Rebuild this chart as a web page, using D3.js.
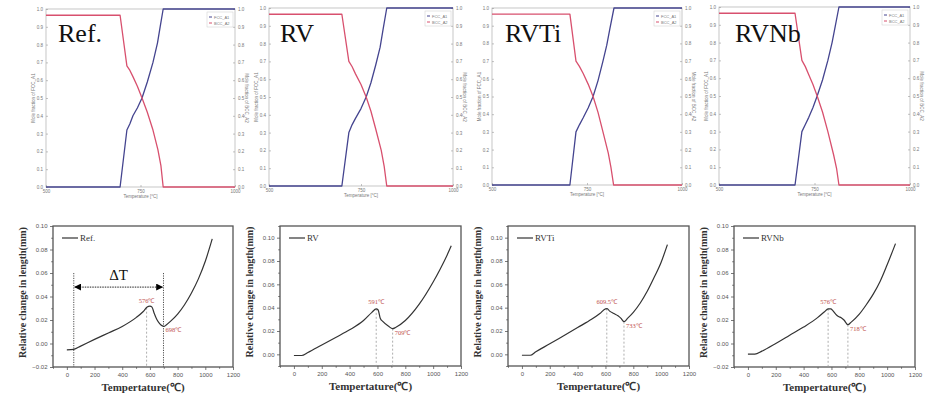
<!DOCTYPE html>
<html><head><meta charset="utf-8">
<script src="https://cdn.jsdelivr.net/npm/d3@7"></script>
<style>
html,body{margin:0;padding:0;background:#fff;}
svg{display:block;}
</style>
</head><body>
<svg id="chart" width="948" height="409"></svg>
<script>
// ---------------- DATA ----------------
const alloys = ["Ref.", "RV", "RVTi", "RVNb"];
const legendLabels = ["Ref.", "RV", "RVTi", "RVNb"];

// Top: phase fraction vs temperature (FCC_A1 blue, BCC_A2 red)
const topXTicks = [500, 750, 1000];
const topYTicks = [0, 0.1, 0.2, 0.3, 0.4, 0.5, 0.6, 0.7, 0.8, 0.9, 1.0];

const refFccT = [500, 696, 714, 722, 730, 742, 754, 768, 783, 795, 802, 810, 1000];
const refFcc  = [0, 0, 0.32, 0.355, 0.40, 0.445, 0.50, 0.59, 0.70, 0.81, 0.90, 1.0, 1.0];
const refBccT = [500, 696, 714, 722, 730, 742, 754, 768, 783, 796, 804, 810, 1000];
const refBcc  = [0.965, 0.965, 0.68, 0.655, 0.62, 0.565, 0.50, 0.42, 0.32, 0.21, 0.12, 0, 0];

const rvFccT = [500, 698, 717, 726, 735, 750, 764, 777, 790, 802, 810, 820, 1000];
const rvFcc  = [0, 0, 0.30, 0.345, 0.38, 0.435, 0.50, 0.58, 0.68, 0.78, 0.88, 1.0, 1.0];
const rvBccT = [500, 698, 717, 726, 735, 750, 764, 777, 790, 805, 813, 820, 1000];
const rvBcc  = [0.965, 0.965, 0.70, 0.67, 0.63, 0.57, 0.50, 0.42, 0.32, 0.20, 0.11, 0, 0];

const rvtiFccT = [500, 705, 721, 730, 740, 753, 766, 779, 792, 802, 810, 821, 1000];
const rvtiFcc  = [0, 0, 0.30, 0.34, 0.38, 0.435, 0.50, 0.59, 0.70, 0.79, 0.88, 1.0, 1.0];
const rvtiBccT = [500, 705, 721, 730, 740, 753, 766, 779, 792, 806, 813, 820, 1000];
const rvtiBcc  = [0.965, 0.965, 0.70, 0.67, 0.63, 0.57, 0.50, 0.41, 0.30, 0.18, 0.10, 0, 0];

const rvnbFccT = [500, 699, 717, 726, 735, 746, 757, 771, 785, 796, 805, 814, 1000];
const rvnbFcc  = [0, 0, 0.30, 0.34, 0.38, 0.435, 0.50, 0.59, 0.70, 0.80, 0.90, 1.0, 1.0];
const rvnbBccT = [500, 699, 717, 726, 735, 746, 757, 771, 785, 800, 808, 814, 1000];
const rvnbBcc  = [0.965, 0.965, 0.70, 0.665, 0.62, 0.565, 0.50, 0.41, 0.30, 0.17, 0.09, 0, 0];

// Bottom: dilatometry, relative change in length vs temperature
const botXTicks = [0, 200, 400, 600, 800, 1000, 1200];

const refDilT = [0, 50, 100, 200, 300, 400, 500, 550, 580, 600, 615, 630, 650, 670, 690, 700, 720, 750, 800, 850, 900, 950, 1000, 1050];
const refDil  = [-0.0055, -0.005, -0.0022, 0.0035, 0.009, 0.0145, 0.022, 0.027, 0.031, 0.0318, 0.031, 0.026, 0.0205, 0.017, 0.015, 0.0145, 0.016, 0.019, 0.025, 0.033, 0.043, 0.055, 0.070, 0.089];

const rvDilT = [0, 55, 100, 200, 300, 400, 500, 560, 591, 605, 620, 640, 680, 709, 730, 800, 900, 1000, 1050, 1100, 1130];
const rvDil  = [-0.001, -0.001, 0.0015, 0.008, 0.0145, 0.021, 0.029, 0.036, 0.039, 0.038, 0.031, 0.028, 0.024, 0.022, 0.023, 0.029, 0.043, 0.062, 0.073, 0.085, 0.093];

const rvtiDilT = [0, 60, 100, 200, 300, 400, 500, 560, 600, 612, 630, 660, 690, 710, 733, 760, 800, 850, 900, 950, 1000, 1045];
const rvtiDil  = [-0.0008, -0.0008, 0.0022, 0.009, 0.016, 0.023, 0.030, 0.035, 0.039, 0.0392, 0.037, 0.035, 0.033, 0.031, 0.028, 0.031, 0.036, 0.044, 0.054, 0.066, 0.079, 0.094];

const rvnbDilT = [0, 50, 100, 200, 300, 400, 500, 550, 576, 595, 610, 630, 650, 670, 690, 718, 740, 800, 850, 900, 950, 1000, 1060];
const rvnbDil  = [-0.009, -0.009, -0.0065, 0.000, 0.007, 0.014, 0.022, 0.027, 0.0295, 0.0295, 0.028, 0.025, 0.023, 0.022, 0.020, 0.016, 0.018, 0.025, 0.033, 0.042, 0.053, 0.067, 0.085];

const peakTemps  = [576, 591, 609.5, 576];
const peakLabels = ["576℃", "591℃", "609.5℃", "576℃"];
const minTemps   = [698, 709, 733, 718];
const minLabels  = ["698℃", "709℃", "733℃", "718℃"];
const deltaTStart = 50;
const deltaTEnd = 698;

// ---------------- DRAW ----------------
const svg = d3.select("#chart");
const BLUE = "#44448f", RED = "#d8506e", ANN = "#c0504d";
const serif = "'Liberation Serif', 'Times New Roman', serif";
const sans = "'Liberation Sans', Arial, sans-serif";

const defs = svg.append("defs");
["arrowEnd","arrowStart"].forEach((id,i)=>{
  defs.append("marker").attr("id", id).attr("viewBox","0 0 10 10")
    .attr("refX", 9).attr("refY",5).attr("markerWidth",7).attr("markerHeight",7)
    .attr("orient", i===0?"auto":"auto-start-reverse").attr("markerUnits","userSpaceOnUse")
    .append("path").attr("d","M0,0 L10,5 L0,10 Z").attr("fill","#000");
});

const topData = [
  {fccT: refFccT, fcc: refFcc, bccT: refBccT, bcc: refBcc},
  {fccT: rvFccT, fcc: rvFcc, bccT: rvBccT, bcc: rvBcc},
  {fccT: rvtiFccT, fcc: rvtiFcc, bccT: rvtiBccT, bcc: rvtiBcc},
  {fccT: rvnbFccT, fcc: rvnbFcc, bccT: rvnbBccT, bcc: rvnbBcc}
];
const topGeom = [
  {l: 46, r: 235, t: 9, b: 187, lx: 58},
  {l: 269, r: 453, t: 8, b: 186, lx: 280},
  {l: 492, r: 682, t: 8, b: 185, lx: 505},
  {l: 719, r: 910, t: 7, b: 185, lx: 735}
];

topGeom.forEach((g, i) => {
  const x = d3.scaleLinear().domain([500, 1000]).range([g.l, g.r]);
  const y = d3.scaleLinear().domain([0, 1]).range([g.b, g.t]);
  const G = svg.append("g");
  G.append("rect").attr("x", g.l).attr("y", g.t).attr("width", g.r - g.l).attr("height", g.b - g.t)
    .attr("fill", "none").attr("stroke", "#b8b8b8").attr("stroke-width", 0.8);
  const ax = G.append("g").attr("transform", `translate(0,${g.b})`)
    .call(d3.axisBottom(x).tickValues(topXTicks).tickSizeInner(-2).tickSizeOuter(0).tickPadding(3).tickFormat(d3.format("d")));
  const ay = G.append("g").attr("transform", `translate(${g.l},0)`)
    .call(d3.axisLeft(y).tickValues(topYTicks).tickSizeInner(-2).tickSizeOuter(0).tickPadding(3).tickFormat(d3.format(".1f")));
  const ay2 = G.append("g").attr("transform", `translate(${g.r},0)`)
    .call(d3.axisRight(y).tickValues(topYTicks).tickSizeInner(-2).tickSizeOuter(0).tickPadding(3).tickFormat(d3.format(".1f")));
  [ax, ay, ay2].forEach(a => {
    a.select(".domain").remove();
    a.selectAll("line").attr("stroke", "#999").attr("stroke-width", 0.6);
    a.selectAll("text").attr("font-family", sans).attr("font-size", 4.5).attr("fill", "#777");
  });
  G.append("text").attr("x", (g.l + g.r) / 2).attr("y", g.b + 11).attr("text-anchor", "middle")
    .attr("font-family", sans).attr("font-size", 4.5).attr("fill", "#777").text("Temperature [°C]");
  G.append("text").attr("transform", `translate(${g.l - 11},${(g.t + g.b) / 2}) rotate(-90)`)
    .attr("text-anchor", "middle").attr("font-family", sans).attr("font-size", 4.5).attr("fill", "#777")
    .text("Mole fraction of FCC_A1");
  G.append("text").attr("transform", `translate(${g.r + 10},${(g.t + g.b) / 2}) rotate(90)`)
    .attr("text-anchor", "middle").attr("font-family", sans).attr("font-size", 4.5).attr("fill", "#777")
    .text("Mole fraction of BCC_A2");
  const d = topData[i];
  const line = d3.line().x(p => x(p[0])).y(p => y(p[1]));
  G.append("path").datum(d.fccT.map((t, k) => [t, d.fcc[k]])).attr("d", line)
    .attr("fill", "none").attr("stroke", BLUE).attr("stroke-width", 1.3).attr("stroke-linejoin", "round");
  G.append("path").datum(d.bccT.map((t, k) => [t, d.bcc[k]])).attr("d", line)
    .attr("fill", "none").attr("stroke", RED).attr("stroke-width", 1.3).attr("stroke-linejoin", "round");
  const lx = g.r - 28, ly = g.t + 3;
  G.append("rect").attr("x", lx).attr("y", ly).attr("width", 26).attr("height", 15)
    .attr("fill", "#fff").attr("stroke", "#ccc").attr("stroke-width", 0.5);
  [["FCC_A1", BLUE], ["BCC_A2", RED]].forEach((e, k) => {
    G.append("line").attr("x1", lx + 2).attr("x2", lx + 5).attr("y1", ly + 5 + k * 6).attr("y2", ly + 5 + k * 6)
      .attr("stroke", e[1]).attr("stroke-width", 1);
    G.append("text").attr("x", lx + 7).attr("y", ly + 6.5 + k * 6).attr("font-family", sans)
      .attr("font-size", 4).attr("fill", "#777").text(e[0]);
  });
  G.append("text").attr("x", g.lx).attr("y", 42).attr("font-family", serif).attr("font-size", 26)
    .attr("fill", "#111").text(alloys[i]);
});

// -------- bottom panels --------
const botData = [
  {T: refDilT, v: refDil, yd: [-0.02, 0.10]},
  {T: rvDilT, v: rvDil, yd: [-0.01, 0.11]},
  {T: rvtiDilT, v: rvtiDil, yd: [-0.01, 0.11]},
  {T: rvnbDilT, v: rvnbDil, yd: [-0.02, 0.10]}
];
const botGeom = [
  {l: 53, r: 233, t: 226, b: 367},
  {l: 280, r: 461, t: 226, b: 366},
  {l: 508, r: 689, t: 226, b: 366},
  {l: 734, r: 915, t: 226, b: 367}
];

botGeom.forEach((g, i) => {
  const d = botData[i];
  const x = d3.scaleLinear().domain([-100, 1200]).range([g.l, g.r]);
  const y = d3.scaleLinear().domain(d.yd).range([g.b, g.t]);
  const G = svg.append("g");
  const majorY = d3.range(Math.ceil(d.yd[0] / 0.02 - 1e-9) * 0.02, d.yd[1] + 1e-9, 0.02).map(v => +v.toFixed(2));
  const minorY = d3.range(Math.round(d.yd[0] * 100), Math.round(d.yd[1] * 100) + 1).map(v => v / 100)
    .filter(v => !majorY.some(m => Math.abs(m - v) < 1e-9));
  const minorX = [-100, 100, 300, 500, 700, 900, 1100];

  const ax = G.append("g").attr("transform", `translate(0,${g.b})`)
    .call(d3.axisBottom(x).tickValues(botXTicks).tickSizeInner(3).tickSizeOuter(0).tickPadding(2.5).tickFormat(d3.format("d")));
  const axm = G.append("g").attr("transform", `translate(0,${g.b})`)
    .call(d3.axisBottom(x).tickValues(minorX).tickSizeInner(1.8).tickSizeOuter(0).tickFormat(""));
  const ay = G.append("g").attr("transform", `translate(${g.l},0)`)
    .call(d3.axisLeft(y).tickValues(majorY).tickSizeInner(3).tickSizeOuter(0).tickPadding(2.5).tickFormat(d3.format(".2f")));
  const aym = G.append("g").attr("transform", `translate(${g.l},0)`)
    .call(d3.axisLeft(y).tickValues(minorY).tickSizeInner(1.8).tickSizeOuter(0).tickFormat(""));
  [ax, axm, ay, aym].forEach(a => {
    a.select(".domain").remove();
    a.selectAll("line").attr("stroke", "#555").attr("stroke-width", 0.8);
    a.selectAll("text").attr("font-family", sans).attr("font-size", 6).attr("fill", "#555");
  });
  G.append("rect").attr("x", g.l).attr("y", g.t).attr("width", g.r - g.l).attr("height", g.b - g.t)
    .attr("fill", "none").attr("stroke", "#555").attr("stroke-width", 1.3);

  G.append("text").attr("x", (g.l + g.r) / 2).attr("y", g.b + 24).attr("text-anchor", "middle")
    .attr("font-family", serif).attr("font-weight", "bold").attr("font-size", 11).attr("fill", "#333")
    .text("Tempertature(℃)");
  G.append("text").attr("transform", `translate(${g.l - 27},${(g.t + g.b) / 2 - 4}) rotate(-90)`)
    .attr("text-anchor", "middle").attr("font-family", serif).attr("font-weight", "bold").attr("font-size", 10)
    .attr("fill", "#333").text("Relative change in length(mm)");

  const interp = (T) => {
    for (let k = 1; k < d.T.length; k++) {
      if (T <= d.T[k]) { const f = (T - d.T[k - 1]) / (d.T[k] - d.T[k - 1]); return d.v[k - 1] + f * (d.v[k] - d.v[k - 1]); }
    }
    return d.v[d.v.length - 1];
  };
  G.append("line").attr("x1", x(peakTemps[i])).attr("x2", x(peakTemps[i]))
    .attr("y1", y(interp(peakTemps[i]))).attr("y2", g.b)
    .attr("stroke", "#999").attr("stroke-width", 0.8).attr("stroke-dasharray", "2,2");
  if (i > 0) {
    G.append("line").attr("x1", x(minTemps[i])).attr("x2", x(minTemps[i]))
      .attr("y1", y(interp(minTemps[i]))).attr("y2", g.b)
      .attr("stroke", "#999").attr("stroke-width", 0.8).attr("stroke-dasharray", "2,2");
  } else {
    [deltaTStart, deltaTEnd].forEach(T => {
      G.append("line").attr("x1", x(T)).attr("x2", x(T)).attr("y1", y(0.06)).attr("y2", g.b)
        .attr("stroke", "#222").attr("stroke-width", 0.8).attr("stroke-dasharray", "1.2,1.2");
    });
    G.append("line").attr("x1", x(deltaTStart) + 1).attr("x2", x(deltaTEnd) - 1)
      .attr("y1", y(0.048)).attr("y2", y(0.048))
      .attr("stroke", "#222").attr("stroke-width", 1).attr("stroke-dasharray", "1.5,1")
      .attr("marker-end", "url(#arrowEnd)").attr("marker-start", "url(#arrowStart)");
    G.append("text").attr("x", x((deltaTStart + deltaTEnd) / 2)).attr("y", y(0.054))
      .attr("text-anchor", "middle").attr("font-family", serif).attr("font-size", 15).attr("fill", "#111").text("ΔT");
  }

  const line = d3.line().x(p => x(p[0])).y(p => y(p[1])).curve(d3.curveMonotoneX);
  G.append("path").datum(d.T.map((t, k) => [t, d.v[k]])).attr("d", line)
    .attr("fill", "none").attr("stroke", "#333").attr("stroke-width", 1.2);

  G.append("text").attr("x", x(peakTemps[i])).attr("y", y(interp(peakTemps[i])) - 5)
    .attr("text-anchor", "middle").attr("font-family", serif).attr("font-size", 6.5).attr("fill", ANN)
    .text(peakLabels[i]);
  G.append("text").attr("x", x(minTemps[i]) + 2).attr("y", y(interp(minTemps[i])) + 6)
    .attr("font-family", serif).attr("font-size", 6.5).attr("fill", ANN).text(minLabels[i]);

  G.append("line").attr("x1", g.l + 9).attr("x2", g.l + 25).attr("y1", g.t + 12).attr("y2", g.t + 12)
    .attr("stroke", "#333").attr("stroke-width", 1.2);
  G.append("text").attr("x", g.l + 27).attr("y", g.t + 15).attr("font-family", serif).attr("font-size", 9)
    .attr("fill", "#333").text(legendLabels[i]);
});
</script>
</body></html>
